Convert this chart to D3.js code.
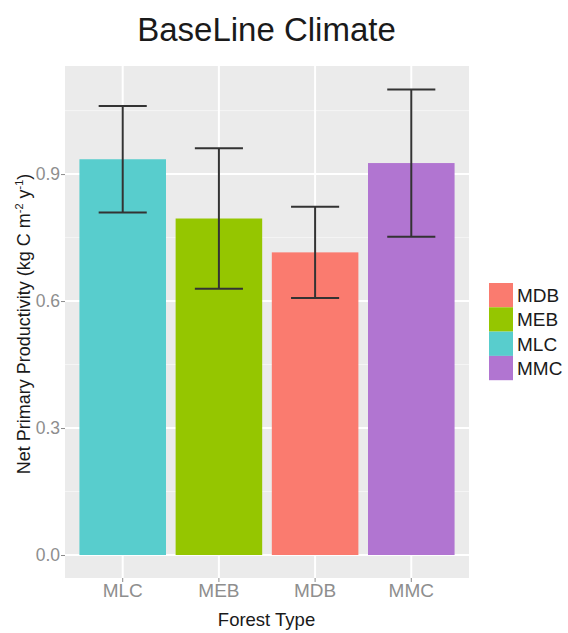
<!DOCTYPE html>
<html>
<head>
<meta charset="utf-8">
<script src="https://cdn.jsdelivr.net/npm/d3@7"></script>
<style>
  html, body { margin: 0; padding: 0; background: #fff; }
  text { font-family: "Liberation Sans", Arial, sans-serif; }
</style>
</head>
<body>
<svg id="chart" width="568" height="633"></svg>
<script>
// Forest types in plotting order along the x axis
const categories = ["MLC", "MEB", "MDB", "MMC"];
// Mean net primary productivity per forest type
const npp = [0.935, 0.795, 0.715, 0.926];
// Half-width of the error bar for each forest type
const errHalf = [0.126, 0.166, 0.108, 0.174];
// Legend order (alphabetical) and fill colours
const legendKeys = ["MDB", "MEB", "MLC", "MMC"];
const legendColors = ["#FA7B6F", "#95C600", "#58CDCD", "#B175D1"];
const yTicks = [0.0, 0.3, 0.6, 0.9];
const yMinor = [0.15, 0.45, 0.75, 1.05];

const svg = d3.select("#chart");
const panel = { left: 65, right: 469, top: 66, bottom: 578 };

const color = d3.scaleOrdinal().domain(legendKeys).range(legendColors);

// Discrete x scale with 0.6 band expansion on each side
const step = (panel.right - panel.left) / (categories.length + 0.2);
const x = d3.scaleBand()
  .domain(categories)
  .range([panel.left + 0.1 * step, panel.right - 0.1 * step])
  .paddingInner(0).paddingOuter(0);

const y = d3.scaleLinear().domain([-0.0543, 1.1553]).range([panel.bottom, panel.top]);

// Panel background
svg.append("rect")
  .attr("x", panel.left).attr("y", panel.top)
  .attr("width", panel.right - panel.left).attr("height", panel.bottom - panel.top)
  .attr("fill", "#EBEBEB");

// Minor grid
svg.append("g").selectAll("line").data(yMinor).join("line")
  .attr("x1", panel.left).attr("x2", panel.right)
  .attr("y1", d => y(d)).attr("y2", d => y(d))
  .attr("stroke", "#F5F5F5").attr("stroke-width", 1);

// Major grid
svg.append("g").selectAll("line").data(yTicks).join("line")
  .attr("x1", panel.left).attr("x2", panel.right)
  .attr("y1", d => y(d)).attr("y2", d => y(d))
  .attr("stroke", "#FFFFFF").attr("stroke-width", 2);
svg.append("g").selectAll("line").data(categories).join("line")
  .attr("x1", d => x(d) + x.bandwidth() / 2).attr("x2", d => x(d) + x.bandwidth() / 2)
  .attr("y1", panel.top).attr("y2", panel.bottom)
  .attr("stroke", "#FFFFFF").attr("stroke-width", 2);

// Bars
const barW = x.bandwidth() * 0.9;
svg.append("g").selectAll("rect").data(categories).join("rect")
  .attr("x", d => x(d) + (x.bandwidth() - barW) / 2)
  .attr("width", barW)
  .attr("y", (d, i) => y(npp[i]))
  .attr("height", (d, i) => y(0) - y(npp[i]))
  .attr("fill", d => color(d));

// Error bars
const capW = x.bandwidth() * 0.5;
const eb = svg.append("g").attr("stroke", "#333333").attr("stroke-width", 2).attr("fill", "none");
categories.forEach((c, i) => {
  const cx = x(c) + x.bandwidth() / 2;
  const lo = y(npp[i] - errHalf[i]), hi = y(npp[i] + errHalf[i]);
  eb.append("line").attr("x1", cx).attr("x2", cx).attr("y1", lo).attr("y2", hi);
  eb.append("line").attr("x1", cx - capW / 2).attr("x2", cx + capW / 2).attr("y1", lo).attr("y2", lo);
  eb.append("line").attr("x1", cx - capW / 2).attr("x2", cx + capW / 2).attr("y1", hi).attr("y2", hi);
});

// Y axis
const yAxis = d3.axisLeft(y).tickValues(yTicks).tickFormat(d3.format(".1f")).tickSizeInner(4).tickSizeOuter(0).tickPadding(1);
const gy = svg.append("g").attr("transform", `translate(${panel.left},0)`).call(yAxis);
gy.select(".domain").remove();
gy.selectAll(".tick line").attr("stroke", "#8A8A8A");
gy.selectAll(".tick text").attr("fill", "#8E8E8E").style("font-size", "17.5px")
  .style("font-family", "'Liberation Sans', Arial, sans-serif");

// X axis
const xAxis = d3.axisBottom(x).tickSizeInner(4).tickSizeOuter(0).tickPadding(2);
const gx = svg.append("g").attr("transform", `translate(0,${panel.bottom})`).call(xAxis);
gx.select(".domain").remove();
gx.selectAll(".tick line").attr("stroke", "#8A8A8A");
gx.selectAll(".tick text").attr("fill", "#8E8E8E").style("font-size", "19px")
  .style("font-family", "'Liberation Sans', Arial, sans-serif");

// Title
svg.append("text").attr("x", 266.5).attr("y", 41).attr("text-anchor", "middle")
  .attr("fill", "#1A1A1A").style("font-size", "33px").text("BaseLine Climate");

// Axis titles
svg.append("text").attr("x", 266.5).attr("y", 626).attr("text-anchor", "middle")
  .attr("fill", "#1A1A1A").style("font-size", "18.5px").text("Forest Type");

const yt = svg.append("text")
  .attr("transform", `translate(30,${(panel.top + panel.bottom) / 2 + 2}) rotate(-90)`)
  .attr("text-anchor", "middle").attr("fill", "#1A1A1A").style("font-size", "18px");
yt.append("tspan").text("Net Primary Productivity (kg C m");
yt.append("tspan").attr("dy", -7).style("font-size", "11px").text("-2");
yt.append("tspan").attr("dy", 7).text(" y");
yt.append("tspan").attr("dy", -7).style("font-size", "11px").text("-1");
yt.append("tspan").attr("dy", 7).text(")");

// Legend
const lg = svg.append("g").attr("transform", "translate(489,283)");
const keyH = 24.3;
lg.selectAll("rect").data(legendKeys).join("rect")
  .attr("x", 0).attr("y", (d, i) => i * keyH)
  .attr("width", 24).attr("height", keyH)
  .attr("fill", d => color(d));
lg.selectAll("text").data(legendKeys).join("text")
  .attr("x", 28).attr("y", (d, i) => i * keyH + keyH / 2 + 7)
  .attr("fill", "#1A1A1A").style("font-size", "19px").text(d => d);
</script>
</body>
</html>
